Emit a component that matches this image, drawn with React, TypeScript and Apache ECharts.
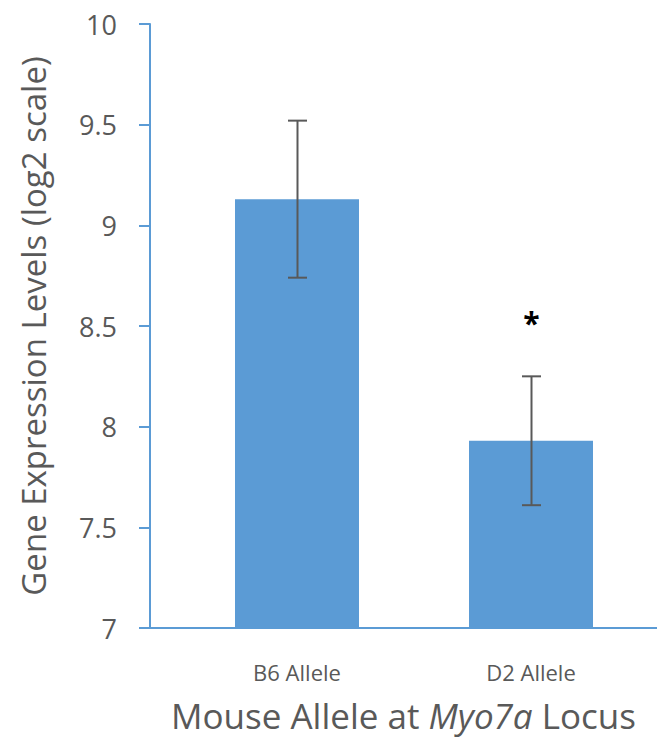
import React, { useEffect, useRef } from "react";
import * as echarts from "echarts";

const categories = ["B6 Allele", "D2 Allele"];
const means = [9.13, 7.93];
const errLow = [8.74, 7.61];
const errHigh = [9.52, 8.25];
const sigMarks = ["", "*"];
const yTicks = { min: 7, max: 10, interval: 0.5 };

const BLUE = "#5B9BD5";
const GRAY = "#595959";
const FONT = "'Open Sans', 'Noto Sans', sans-serif";

export default function App() {
  const ref = useRef<HTMLDivElement>(null);
  useEffect(() => {
    if (!ref.current) return;
    const chart = echarts.init(ref.current, null, { renderer: "svg" });
    chart.setOption({
      animation: false,
      textStyle: { fontFamily: FONT },
      grid: [
        { left: 180, right: 9, top: 24, bottom: 116 },
        { left: 150, right: 0, top: 24, bottom: 116 },
      ],
      xAxis: [
        {
          type: "category",
          gridIndex: 0,
          data: categories,
          axisLine: { show: false },
          axisTick: { show: false },
          axisLabel: { color: GRAY, fontSize: 22, margin: 33, fontFamily: FONT },
        },
        {
          type: "value",
          gridIndex: 1,
          min: 0,
          max: 1,
          axisLine: { show: true, lineStyle: { color: BLUE, width: 2 } },
          axisTick: { show: false },
          axisLabel: { show: false },
          splitLine: { show: false },
          name: "{n|Mouse Allele at }{i|Myo7a}{n| Locus}",
          nameLocation: "middle",
          nameGap: 70,
          nameTextStyle: {
            rich: {
              n: { fontSize: 35, color: GRAY, fontFamily: FONT },
              i: { fontSize: 35, color: GRAY, fontStyle: "italic", fontFamily: FONT },
            },
          },
        },
      ],
      yAxis: [
        {
          type: "value",
          gridIndex: 0,
          ...yTicks,
          show: false,
        },
        {
          type: "value",
          gridIndex: 1,
          ...yTicks,
          axisLine: { show: true, lineStyle: { color: BLUE, width: 2 } },
          axisTick: { show: true, length: 11, lineStyle: { color: BLUE, width: 2 } },
          axisLabel: { color: GRAY, fontSize: 27, margin: 33, fontFamily: FONT },
          splitLine: { show: false },
          name: "Gene Expression Levels (log2 scale)",
          nameLocation: "middle",
          nameGap: 100,
          nameTextStyle: { color: GRAY, fontSize: 33, fontFamily: FONT },
        },
      ],
      series: [
        {
          type: "bar",
          xAxisIndex: 0,
          yAxisIndex: 0,
          data: means,
          barWidth: 124,
          itemStyle: { color: BLUE },
        },
        {
          type: "custom",
          xAxisIndex: 0,
          yAxisIndex: 0,
          data: categories.map((c, i) => [i, errLow[i], errHigh[i]]),
          renderItem: (params: any, api: any) => {
            const i = api.value(0);
            const lo = api.coord([i, api.value(1)]);
            const hi = api.coord([i, api.value(2)]);
            const x = Math.round(lo[0]) + 0.5;
            const cap = 9.5;
            const style = { stroke: GRAY, lineWidth: 2 };
            const children: any[] = [
              { type: "line", shape: { x1: x, y1: hi[1], x2: x, y2: lo[1] }, style },
              { type: "line", shape: { x1: x - cap, y1: hi[1], x2: x + cap, y2: hi[1] }, style },
              { type: "line", shape: { x1: x - cap, y1: lo[1], x2: x + cap, y2: lo[1] }, style },
            ];
            const mark = sigMarks[params.dataIndex];
            if (mark) {
              children.push({
                type: "text",
                x: x,
                y: hi[1] - 54,
                style: {
                  text: mark,
                  fill: "#000",
                  font: "bold 30px " + FONT,
                  align: "center",
                  verticalAlign: "middle",
                },
              });
            }
            return { type: "group", children };
          },
          z: 5,
        },
      ],
    });
    return () => chart.dispose();
  }, []);
  return <div ref={ref} style={{ width: 657, height: 744, position: "absolute", left: 0, top: 0 }} />;
}
